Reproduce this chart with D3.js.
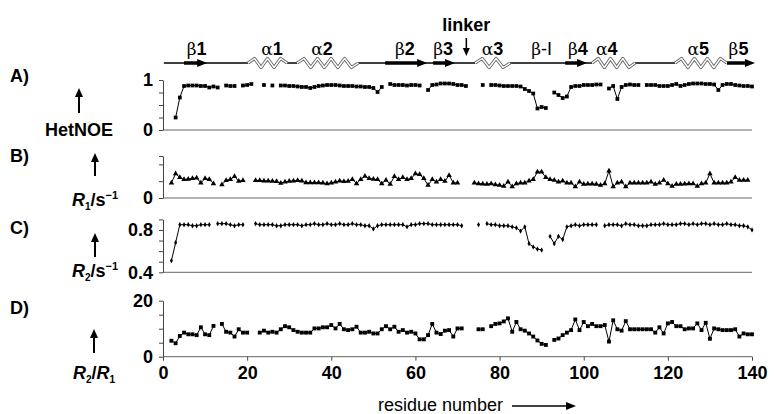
<!DOCTYPE html>
<html>
<head>
<meta charset="utf-8">
<script src="https://d3js.org/d3.v7.min.js"></script>
<style>
body { margin: 0; background: #fff; }
text { font-family: "Liberation Sans", Arial, sans-serif; }
</style>
</head>
<body>
<script>
// residue numbers 1..140, null where there is no value
var residues = d3.range(1, 141);

var hetNOE = [
  null, null, 0.25, 0.65, 0.88, 0.89, 0.89, 0.89, 0.88, 0.88,
  0.85, 0.87, 0.85, null, 0.89, 0.88, 0.88, null, 0.89, 0.90,
  0.92, null, null, 0.90, null, 0.89, null, 0.89, 0.89, 0.88,
  0.88, 0.87, 0.86, 0.86, 0.84, 0.86, 0.88, 0.89, 0.90, 0.90,
  0.90, 0.89, 0.88, 0.88, 0.88, 0.87, 0.87, 0.86, 0.86, 0.84,
  0.76, 0.86, null, 0.92, 0.90, 0.90, 0.90, 0.89, 0.90, 0.90,
  0.89, null, 0.80, 0.90, 0.91, 0.93, 0.93, 0.93, 0.92, 0.90,
  0.90, 0.88, null, null, null, 0.90, null, 0.90, 0.90, 0.89,
  0.88, 0.88, 0.88, 0.88, 0.87, 0.82, 0.78, 0.73, 0.43, 0.46,
  0.44, null, 0.75, 0.70, 0.64, 0.67, 0.86, 0.88, 0.88, 0.90,
  0.90, 0.90, 0.91, 0.91, null, 0.83, 0.88, 0.62, 0.86, 0.90,
  0.91, 0.90, 0.90, null, 0.90, 0.90, 0.90, 0.88, 0.88, 0.88,
  0.90, 0.92, 0.88, 0.90, 0.92, 0.93, 0.93, 0.93, 0.92, 0.92,
  0.91, 0.80, 0.90, 0.92, 0.92, 0.90, 0.89, 0.88, 0.88, 0.87
];

var r1 = [
  null, 0.90, 1.45, 1.22, 1.10, 1.12, 1.16, 1.20, 0.90, 1.16,
  1.10, 0.86, null, 0.80, 1.05, 1.10, 1.28, 1.00, 1.05, null,
  null, 1.05, 1.04, 1.02, 1.02, 1.00, 0.98, 0.88, 0.96, 1.00,
  1.02, 1.04, 1.02, 0.92, 0.92, 0.92, 0.92, 0.90, 0.86, 0.90,
  0.96, 1.02, 0.98, 1.00, 1.10, 0.86, 1.10, 1.30, 1.16, 1.12,
  1.10, 0.86, 1.06, 0.82, 1.29, 1.10, 1.22, 1.10, 1.16, 1.45,
  1.40, 1.16, 0.76, 1.10, 0.96, 1.10, 1.00, 1.35, 0.90, 0.90,
  null, null, null, 0.90, 0.86, 0.84, 0.82, 0.86, 0.80, 0.76,
  0.70, 0.96, 0.67, 0.86, 0.90, 0.90, 1.02, 1.10, 1.55, 1.55,
  1.22, 1.10, 1.06, 0.96, 1.02, 0.90, 0.90, 0.67, 0.96, 0.82,
  0.84, 0.84, 0.82, 0.76, 0.86, 1.61, 0.67, 0.90, 0.96, 0.67,
  0.90, 0.90, 0.90, 0.90, 0.90, 0.96, 0.82, 0.90, 1.06, 0.86,
  0.71, 0.82, 0.82, 0.84, 0.86, 0.86, 0.71, 0.86, 0.90, 1.45,
  0.90, 0.90, 0.90, 0.90, 0.96, 1.22, 1.06, 1.06, 1.06, null
];

var r2 = [
  null, 0.51, 0.68, 0.85, 0.85, 0.85, 0.84, 0.84, 0.85, 0.85,
  0.85, null, 0.86, 0.86, 0.86, 0.85, 0.84, 0.85, 0.85, null,
  null, 0.86, 0.85, 0.85, 0.85, 0.85, 0.84, 0.84, 0.85, 0.85,
  0.85, 0.85, 0.84, 0.85, 0.85, 0.86, 0.85, 0.85, 0.86, 0.85,
  0.85, 0.86, 0.85, 0.85, 0.86, 0.85, 0.85, 0.84, 0.84, 0.81,
  0.84, 0.85, 0.85, 0.85, 0.85, 0.85, 0.85, 0.83, 0.85, 0.85,
  0.86, 0.86, 0.86, 0.85, 0.85, 0.85, 0.85, 0.85, 0.85, 0.85,
  0.84, null, null, null, 0.85, null, 0.86, 0.85, 0.85, 0.84,
  0.84, 0.84, 0.83, 0.82, 0.79, 0.83, 0.67, 0.64, 0.62, 0.61,
  null, 0.74, 0.67, 0.74, 0.71, 0.83, 0.84, 0.85, 0.84, 0.85,
  0.85, 0.85, 0.85, null, 0.84, 0.85, 0.85, 0.85, 0.84, 0.86,
  0.85, 0.85, 0.84, 0.84, 0.84, 0.85, 0.85, 0.85, 0.86, 0.85,
  0.85, 0.85, 0.86, 0.86, 0.85, 0.86, 0.85, 0.86, 0.86, 0.85,
  0.86, 0.85, 0.85, 0.86, 0.85, 0.85, 0.84, 0.84, 0.83, 0.80
];

var r2r1 = [
  null, 5.7, 4.8, 7.4, 8.6, 8.0, 8.0, 7.7, 10.5, 8.0,
  7.7, 11.0, null, 11.7, 8.9, 8.6, 7.2, 9.8, 8.6, 8.6,
  null, null, 8.6, 9.3, 8.6, 8.9, 8.6, 9.8, 10.9, 10.5,
  9.5, 8.9, 8.6, 8.6, 8.6, 10.1, 10.1, 10.5, 10.5, 11.3,
  10.1, 11.7, 9.8, 9.5, 9.8, 10.7, 8.6, 8.6, 8.9, 8.3,
  8.3, 9.8, 10.9, 9.8, 10.7, 8.9, 9.5, 8.6, 8.9, 8.3,
  6.2, 6.2, 7.7, 11.7, 8.6, 8.1, 9.3, 9.5, 7.2, 10.1,
  10.1, null, null, null, 9.8, 9.8, null, 10.9, 11.7, 11.9,
  12.6, 13.7, 8.9, 12.4, 9.8, 9.3, 8.3, 7.2, 5.8, 4.6,
  4.2, null, 6.0, 6.5, 7.7, 8.6, 9.5, 13.3, 9.5, 12.4,
  10.9, 11.7, 10.9, 10.9, 11.3, 5.4, 13.0, 9.8, 9.3, 12.7,
  9.8, 9.8, 9.8, 9.8, 9.8, 9.8, 8.6, 10.5, 8.3, 11.9,
  12.4, 10.9, 10.9, 9.8, 10.1, 10.1, 11.9, 9.5, 12.1, 6.4,
  10.1, 9.8, 9.5, 9.5, 9.5, 9.8, 7.2, 8.3, 8.0, 8.0
];

// secondary structure (residue ranges) and labels
var strands = [[5, 10.5], [52.8, 62.8], [64.2, 69.4], [95.6, 100.8], [134, 140.7]];
var helices = [[20.2, 29.5], [31.9, 46.4], [74.2, 82.5], [102, 112.2], [121.7, 134]];
var ssLabels = [
  {at: 8, greek: "β", num: "1"},
  {at: 25.9, greek: "α", num: "1"},
  {at: 37.8, greek: "α", num: "2"},
  {at: 57.5, greek: "β", num: "2"},
  {at: 66.6, greek: "β", num: "3"},
  {at: 78.3, greek: "α", num: "3"},
  {at: 90, greek: "β", num: "-I", plain: true},
  {at: 98.6, greek: "β", num: "4"},
  {at: 105.5, greek: "α", num: "4"},
  {at: 127.2, greek: "α", num: "5"},
  {at: 136.8, greek: "β", num: "5"}
];
var linkerAt = 72.1;
var xTicks = [0, 20, 40, 60, 80, 100, 120, 140];

var svg = d3.select("body").append("svg")
  .attr("width", 775)
  .attr("height", 414);

var x = d3.scaleLinear().domain([0, 140]).range([163, 752]);

function upArrow(x0, yBottom, yTop) {
  svg.append("line")
    .attr("x1", x0).attr("x2", x0)
    .attr("y1", yBottom).attr("y2", yTop + 6)
    .attr("stroke", "#000").attr("stroke-width", 2);
  svg.append("path")
    .attr("d", "M" + (x0 - 4) + "," + (yTop + 9) + "L" + x0 + "," + yTop + "L" + (x0 + 4) + "," + (yTop + 9) + "Z")
    .attr("fill", "#000");
}

var panels = [
  {letter: "A)", ly: 82, values: hetNOE, domain: [0, 1], range: [130, 80],
   ticks: [0, 0.25, 0.5, 0.75, 1], labels: [0, 1], fmt: d3.format("d"),
   symbol: d3.symbolSquare, size: 14, arrow: [79, 113, 88]},
  {letter: "B)", ly: 162, values: r1, domain: [0, 2.5], range: [198, 156],
   ticks: [0, 1, 2, 2.5], labels: [0], fmt: d3.format("d"),
   symbol: d3.symbolTriangle, size: 13, arrow: [95, 176, 153]},
  {letter: "C)", ly: 234, values: r2, domain: [0.4, 0.9], range: [272.3, 219.4],
   ticks: [0.4, 0.5, 0.6, 0.7, 0.8, 0.9], labels: [0.4, 0.8], fmt: d3.format(".1f"),
   symbol: d3.symbolDiamond, size: 8, arrow: [95, 257, 233]},
  {letter: "D)", ly: 314, values: r2r1, domain: [0, 20], range: [356.7, 300.7],
   ticks: [0, 5, 10, 15, 20], labels: [0, 20], fmt: d3.format("d"),
   symbol: d3.symbolSquare, size: 15, arrow: [94, 353, 329]}
];

panels.forEach(function(p) {
  var y = d3.scaleLinear().domain(p.domain).range(p.range);
  var pts = residues.map(function(r, i) { return {r: r, v: p.values[i]}; });
  var g = svg.append("g");

  // baseline
  g.append("line")
    .attr("x1", 163).attr("x2", 752)
    .attr("y1", y(p.domain[0])).attr("y2", y(p.domain[0]))
    .attr("stroke", "#666").attr("stroke-width", 1);

  var ax = g.append("g")
    .attr("transform", "translate(163,0)")
    .call(d3.axisLeft(y).tickValues(p.ticks).tickSize(4).tickSizeOuter(0).tickPadding(6)
      .tickFormat(function(d) { return p.labels.indexOf(d) >= 0 ? p.fmt(d) : ""; }));
  ax.selectAll("path,line").attr("stroke", "#444");
  ax.selectAll("text").attr("fill", "#000")
    .style("font-size", "18px").style("font-weight", "bold")
    .style("font-family", "'Liberation Sans', Arial, sans-serif");

  var line = d3.line()
    .defined(function(d) { return d.v != null; })
    .x(function(d) { return x(d.r); })
    .y(function(d) { return y(d.v); });

  g.append("path")
    .datum(pts)
    .attr("d", line)
    .attr("fill", "none")
    .attr("stroke", "#000")
    .attr("stroke-width", 1);

  g.selectAll(".pt")
    .data(pts.filter(function(d) { return d.v != null; }))
    .enter()
    .append("path")
    .attr("transform", function(d) { return "translate(" + x(d.r) + "," + y(d.v) + ")"; })
    .attr("d", d3.symbol().type(p.symbol).size(p.size))
    .attr("fill", "#000");

  g.append("text")
    .attr("x", 10).attr("y", p.ly)
    .style("font-size", "18px").style("font-weight", "bold")
    .text(p.letter);

  upArrow(p.arrow[0], p.arrow[1], p.arrow[2]);
});

// bottom axis on panel D
var xAxis = svg.append("g")
  .attr("transform", "translate(0,356.7)")
  .call(d3.axisBottom(x).tickValues(xTicks).tickSize(4).tickSizeOuter(0).tickPadding(6));
xAxis.select(".domain").remove();
xAxis.selectAll("line").attr("stroke", "#444");
xAxis.selectAll("text").attr("fill", "#000")
  .style("font-size", "18px").style("font-weight", "bold")
  .style("font-family", "'Liberation Sans', Arial, sans-serif");

// y labels
svg.append("text").attr("x", 45).attr("y", 136)
  .style("font-size", "18px").style("font-weight", "bold").text("HetNOE");

function rateLabel(x0, y0, sub) {
  var t = svg.append("text").attr("x", x0).attr("y", y0)
    .style("font-size", "18px").style("font-weight", "bold");
  t.append("tspan").style("font-style", "italic").text("R");
  t.append("tspan").attr("dy", 4).style("font-size", "10px").text(sub);
  t.append("tspan").attr("dy", -4).text("/s");
  t.append("tspan").attr("dy", -7).style("font-size", "11px").text("−1");
}
rateLabel(72, 206, "1");
rateLabel(72, 277, "2");

var rr = svg.append("text").attr("x", 73).attr("y", 379)
  .style("font-size", "18px").style("font-weight", "bold");
rr.append("tspan").style("font-style", "italic").text("R");
rr.append("tspan").attr("dy", 4).style("font-size", "10px").text("2");
rr.append("tspan").attr("dy", -4).text("/");
rr.append("tspan").style("font-style", "italic").text("R");
rr.append("tspan").attr("dy", 4).style("font-size", "10px").text("1");

// x label with arrow
svg.append("text").attr("x", 378).attr("y", 411)
  .style("font-size", "18px").text("residue number");
svg.append("line").attr("x1", 512).attr("x2", 568).attr("y1", 406).attr("y2", 406)
  .attr("stroke", "#000").attr("stroke-width", 1.5);
svg.append("path").attr("d", "M566,402L576,406L566,410Z").attr("fill", "#000");

// secondary structure track
var ssY = 63;
svg.append("line")
  .attr("x1", x(0.2)).attr("x2", x(134))
  .attr("y1", ssY).attr("y2", ssY)
  .attr("stroke", "#000").attr("stroke-width", 1.5);

strands.forEach(function(s) {
  var x0 = x(s[0]), x1 = x(s[1]);
  svg.append("line")
    .attr("x1", x0).attr("x2", x1 - 7)
    .attr("y1", ssY).attr("y2", ssY)
    .attr("stroke", "#000").attr("stroke-width", 3.5);
  svg.append("path")
    .attr("d", "M" + (x1 - 10) + "," + (ssY - 4) + "L" + x1 + "," + ssY + "L" + (x1 - 10) + "," + (ssY + 4) + "Z")
    .attr("fill", "#000");
});

helices.forEach(function(h) {
  var x0 = x(h[0]), x1 = x(h[1]);
  svg.append("rect")
    .attr("x", x0).attr("y", ssY - 3).attr("width", x1 - x0).attr("height", 6)
    .attr("fill", "#fff");
  var n = Math.round((x1 - x0) / 6.5);
  var step = (x1 - x0) / n;
  var zig = [];
  for (var i = 0; i <= n; i++) {
    zig.push([x0 + i * step, ssY + (i === 0 || i === n ? 0 : (i % 2 ? -4.5 : 4.5))]);
  }
  var zl = d3.line();
  svg.append("path").attr("d", zl(zig)).attr("fill", "none")
    .attr("stroke", "#666").attr("stroke-width", 3.2).attr("stroke-linejoin", "round");
  svg.append("path").attr("d", zl(zig)).attr("fill", "none")
    .attr("stroke", "#fff").attr("stroke-width", 1.4).attr("stroke-linejoin", "round");
});

ssLabels.forEach(function(l) {
  var t = svg.append("text")
    .attr("x", x(l.at)).attr("y", 55)
    .attr("text-anchor", "middle")
    .style("font-size", "18px");
  t.append("tspan").style("font-family", "'DejaVu Serif', serif").style("font-size", "17px").text(l.greek);
  t.append("tspan").style("font-weight", l.plain ? "normal" : "bold").text(l.num);
});

// linker
svg.append("text").attr("x", x(linkerAt)).attr("y", 31)
  .attr("text-anchor", "middle")
  .style("font-size", "18px").style("font-weight", "bold").text("linker");
svg.append("line").attr("x1", x(linkerAt)).attr("x2", x(linkerAt))
  .attr("y1", 38).attr("y2", 50)
  .attr("stroke", "#000").attr("stroke-width", 1.5);
svg.append("path")
  .attr("d", "M" + (x(linkerAt) - 3.5) + ",48L" + x(linkerAt) + ",56L" + (x(linkerAt) + 3.5) + ",48Z")
  .attr("fill", "#000");
</script>
</body>
</html>
